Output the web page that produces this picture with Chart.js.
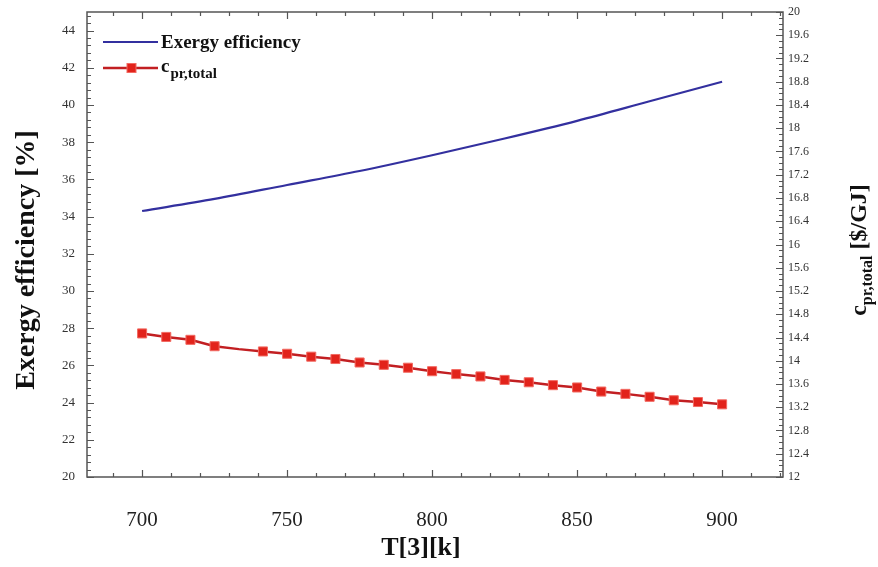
<!DOCTYPE html>
<html><head><meta charset="utf-8">
<script src="https://cdn.jsdelivr.net/npm/chart.js@4/dist/chart.umd.min.js"></script>
<style>html,body{margin:0;padding:0;background:#fff}canvas{display:block}</style>
</head><body>
<canvas id="c" width="878" height="567"></canvas>
<script>
// ---- data ----
const temperatureCost = [700, 708.33, 716.67, 725, 733.33, 741.67, 750, 758.33, 766.67, 775, 783.33, 791.67, 800,
  808.33, 816.67, 825, 833.33, 841.67, 850, 858.33, 866.67, 875, 883.33, 891.67, 900];
const costPrTotal = [14.47, 14.41, 14.36, 14.25, 14.20, 14.16, 14.12, 14.07, 14.03, 13.97, 13.93, 13.88, 13.82,
  13.77, 13.73, 13.67, 13.63, 13.58, 13.54, 13.47, 13.43, 13.38, 13.32, 13.29, 13.25];
const temperatureExergy = [700, 725, 750, 775, 800, 825, 850, 875, 900];
const exergyEfficiency = [34.3, 34.95, 35.7, 36.45, 37.3, 38.2, 39.15, 40.2, 41.25];
const xTickValues = [700, 750, 800, 850, 900];
const leftTickValues = [20, 22, 24, 26, 28, 30, 32, 34, 36, 38, 40, 42, 44];
const rightTickValues = [12, 12.4, 12.8, 13.2, 13.6, 14, 14.4, 14.8, 15.2, 15.6, 16, 16.4, 16.8, 17.2, 17.6, 18,
  18.4, 18.8, 19.2, 19.6, 20];
const seriesNames = ['Exergy efficiency', 'c', 'pr,total'];
const axisTitles = {left: 'Exergy efficiency [%]', bottom: 'T[3][k]', rightMain: 'c', rightSub: 'pr,total', rightTail: ' [$/GJ]'};

const SERIF = '"Liberation Serif", "Times New Roman", serif';
const BLUE = '#33309f';
const RED_LINE = '#c21f22';
const RED_FILL = '#e2231b';

function pts(xs, ys) { return xs.map((x, i) => ({x: x, y: ys[i]})); }
function noPad(s) { s.paddingTop = 0; s.paddingBottom = 0; s.paddingLeft = 0; s.paddingRight = 0; }

const decorations = {
  id: 'decorations',
  beforeDatasetsDraw(chart) {
    const ctx = chart.ctx, ca = chart.chartArea;
    const sx = chart.scales.x, sy = chart.scales.y, sy1 = chart.scales.y1;
    ctx.save();
    ctx.strokeStyle = '#555';
    ctx.lineWidth = 1.2;
    function range(scale, step) {
      const out = [];
      const a = Math.ceil(scale.min / step - 1e-6), b = Math.floor(scale.max / step + 1e-6);
      for (let n = a; n <= b; n++) out.push(n * step);
      return out;
    }
    ctx.beginPath();
    range(sx, 10).forEach(v => {
      const p = Math.round(sx.getPixelForValue(v)) + 0.5;
      const major = xTickValues.some(t => Math.abs(t - v) < 1e-6);
      const L = major ? 7 : 4;
      ctx.moveTo(p, ca.bottom); ctx.lineTo(p, ca.bottom - L);
      ctx.moveTo(p, ca.top); ctx.lineTo(p, ca.top + L);
    });
    range(sy, 0.4).forEach(v => {
      const p = Math.round(sy.getPixelForValue(v)) + 0.5;
      const major = leftTickValues.some(t => Math.abs(t - v) < 1e-6);
      const L = major ? 7 : 4;
      ctx.moveTo(ca.left, p); ctx.lineTo(ca.left + L, p);
    });
    range(sy1, 0.1).forEach(v => {
      const p = Math.round(sy1.getPixelForValue(v)) + 0.5;
      const major = rightTickValues.some(t => Math.abs(t - v) < 1e-6);
      const L = major ? 7 : 4;
      ctx.moveTo(ca.right, p); ctx.lineTo(ca.right - L, p);
    });
    ctx.stroke();
    ctx.lineWidth = 1.5;
    ctx.strokeStyle = '#555';
    ctx.strokeRect(ca.left, ca.top, ca.right - ca.left, ca.bottom - ca.top);
    ctx.restore();
  },
  afterDraw(chart) {
    const ctx = chart.ctx, ca = chart.chartArea;
    ctx.save();
    ctx.fillStyle = '#111';
    // left title
    ctx.save();
    ctx.translate(27, 260);
    ctx.rotate(-Math.PI / 2);
    ctx.font = 'bold 28px ' + SERIF;
    ctx.textAlign = 'center'; ctx.textBaseline = 'middle';
    ctx.fillText(axisTitles.left, 0, 0);
    ctx.restore();
    // bottom title
    ctx.font = 'bold 26px ' + SERIF;
    ctx.textAlign = 'center'; ctx.textBaseline = 'middle';
    ctx.fillText(axisTitles.bottom, 421, 548);
    // right title with subscript
    ctx.save();
    ctx.font = 'bold 24px ' + SERIF;
    const wMain = ctx.measureText(axisTitles.rightMain).width;
    const wTail = ctx.measureText(axisTitles.rightTail).width;
    ctx.font = 'bold 16px ' + SERIF;
    const wSub = ctx.measureText(axisTitles.rightSub).width;
    const total = wMain + wSub + wTail;
    ctx.translate(866, 250);
    ctx.rotate(-Math.PI / 2);
    ctx.textAlign = 'left'; ctx.textBaseline = 'alphabetic';
    let x0 = -total / 2;
    ctx.font = 'bold 24px ' + SERIF;
    ctx.fillText(axisTitles.rightMain, x0, 0);
    ctx.font = 'bold 16px ' + SERIF;
    ctx.fillText(axisTitles.rightSub, x0 + wMain, 6);
    ctx.font = 'bold 24px ' + SERIF;
    ctx.fillText(axisTitles.rightTail, x0 + wMain + wSub, 0);
    ctx.restore();
    // legend
    const ds = chart.data.datasets;
    ctx.lineWidth = 2.2;
    ctx.strokeStyle = ds[0].borderColor;
    ctx.beginPath(); ctx.moveTo(ca.left + 16, 42); ctx.lineTo(ca.left + 71, 42); ctx.stroke();
    ctx.font = 'bold 19px ' + SERIF;
    ctx.textAlign = 'left'; ctx.textBaseline = 'alphabetic';
    ctx.fillStyle = '#111';
    ctx.fillText(seriesNames[0], ca.left + 74, 48);
    ctx.strokeStyle = ds[1].borderColor;
    ctx.lineWidth = 2.5;
    ctx.beginPath(); ctx.moveTo(ca.left + 16, 68); ctx.lineTo(ca.left + 71, 68); ctx.stroke();
    ctx.fillStyle = ds[1].pointBackgroundColor;
    ctx.strokeStyle = ds[1].pointBorderColor;
    ctx.lineWidth = 1;
    ctx.fillRect(ca.left + 40, 63.5, 9, 9);
    ctx.strokeRect(ca.left + 40, 63.5, 9, 9);
    ctx.fillStyle = '#111';
    ctx.font = 'bold 19px ' + SERIF;
    ctx.fillText(seriesNames[1], ca.left + 74, 72);
    const wc = ctx.measureText(seriesNames[1]).width;
    ctx.font = 'bold 15px ' + SERIF;
    ctx.fillText(seriesNames[2], ca.left + 74 + wc + 1, 78);
    ctx.restore();
  }
};

new Chart(document.getElementById('c'), {
  type: 'line',
  data: {
    datasets: [
      {
        label: seriesNames[0],
        data: pts(temperatureExergy, exergyEfficiency),
        yAxisID: 'y',
        borderColor: BLUE,
        borderWidth: 2.2,
        pointRadius: 0,
        tension: 0.4,
        cubicInterpolationMode: 'monotone',
        fill: false
      },
      {
        label: seriesNames[1] + seriesNames[2],
        data: pts(temperatureCost, costPrTotal),
        yAxisID: 'y1',
        borderColor: RED_LINE,
        borderWidth: 2.5,
        pointStyle: 'rect',
        pointRadius: ctx => ctx.dataIndex === 4 ? 0 : 6.4,
        pointBackgroundColor: RED_FILL,
        pointBorderColor: '#f26a62',
        pointBorderWidth: 1,
        tension: 0,
        fill: false
      }
    ]
  },
  options: {
    responsive: false,
    devicePixelRatio: 1,
    animation: false,
    layout: {padding: {top: 12, left: 0, right: 0, bottom: 0}},
    plugins: {legend: {display: false}, tooltip: {enabled: false}, title: {display: false}},
    scales: {
      x: {
        type: 'linear', position: 'bottom', min: 681, max: 921,
        afterBuildTicks: s => { s.ticks = xTickValues.map(v => ({value: v})); },
        afterFit: s => { s.height = 90; noPad(s); },
        grid: {display: false, drawTicks: false},
        border: {display: false},
        ticks: {padding: 31, autoSkip: false, maxRotation: 0, color: '#222',
          font: {family: SERIF, size: 21}, callback: v => String(v)}
      },
      y: {
        type: 'linear', position: 'left', min: 20, max: 45,
        afterBuildTicks: s => { s.ticks = leftTickValues.map(v => ({value: v})); },
        afterFit: s => { s.width = 87; noPad(s); },
        grid: {display: false, drawTicks: false},
        border: {display: false},
        ticks: {padding: 12, autoSkip: false, color: '#333',
          font: {family: SERIF, size: 13}, callback: v => String(v)}
      },
      y1: {
        type: 'linear', position: 'right', min: 12, max: 20,
        afterBuildTicks: s => { s.ticks = rightTickValues.map(v => ({value: v})); },
        afterFit: s => { s.width = 95; noPad(s); },
        grid: {display: false, drawTicks: false},
        border: {display: false},
        ticks: {padding: 5, autoSkip: false, color: '#333',
          font: {family: SERIF, size: 12}, callback: v => String(+(+v).toFixed(1))}
      }
    }
  },
  plugins: [decorations]
});
</script>
</body></html>
